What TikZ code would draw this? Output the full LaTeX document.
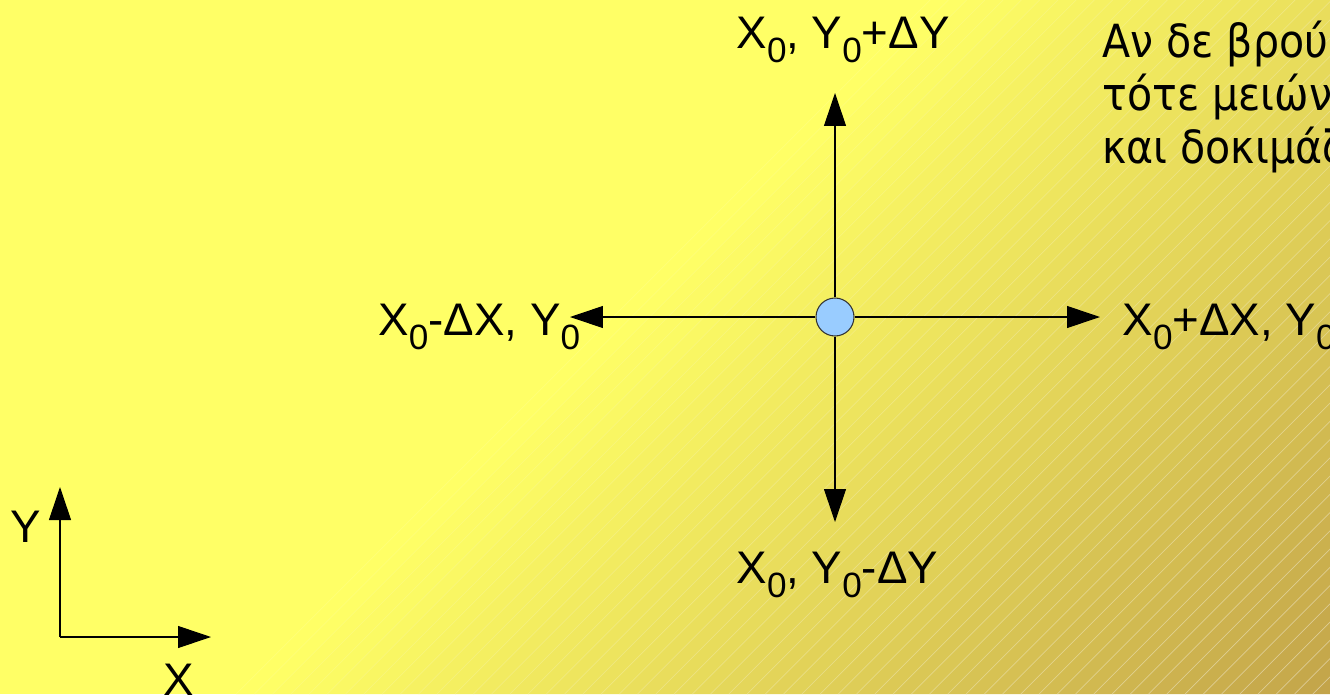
\documentclass[tikz,border=0pt]{standalone}
\usepackage{fontspec}
\setmainfont{Liberation Sans}
\newfontfamily\grfont{DejaVu Sans Condensed}
\usetikzlibrary{arrows.meta}
\definecolor{bgyellow}{RGB}{255,255,102}
\definecolor{bggold}{RGB}{195,164,74}
\definecolor{dotblue}{RGB}{153,204,255}
\newcommand{\nul}{\raisebox{-8.5pt}{\fontsize{20}{20}\selectfont 0}}
\tikzset{
  lbl/.style={font=\fontsize{26}{31}\selectfont, inner sep=0pt},
  note/.style={font=\grfont\fontsize{26}{31}\selectfont, inner sep=0pt},
  dot/.style={circle, draw=black!80, fill=dotblue, line width=0.6pt, minimum size=0.76cm, inner sep=0pt},
}
\begin{document}
\begin{tikzpicture}[x=0.02cm, y=-0.02cm, >={Triangle[length=0.66cm,width=0.44cm]}, line width=0.6pt]
  \useasboundingbox (0,0) rectangle (1330,694);
  \clip (0,0) rectangle (1330,694);
  \fill[bgyellow] (0,0) rectangle (1330,694);
  % diagonal gradient with faint hatching
  \foreach \i in {0,...,59} {
    \pgfmathsetmacro{\a}{930+18.25*\i}
    \pgfmathsetmacro{\b}{\a+19}
    \pgfmathtruncatemacro{\t}{100*\i/59}
    \pgfmathsetmacro{\op}{0.12+0.003*\t}
    \fill[bggold!\t!bgyellow] (\a,0) -- (\b,0) -- ({\b-694},694) -- ({\a-694},694) -- cycle;
    \draw[white, opacity=\op, line width=0.4pt] (\a,0) -- ({\a-694},694);
  }

  \node[dot] (c) at (835,317) {};
  \coordinate (up) at (835,93);
  \coordinate (dn) at (835,522);
  \coordinate (lt) at (570,317);
  \coordinate (rt) at (1100,317);
  \draw[->] (c) -- (up);
  \draw[->] (c) -- (dn);
  \draw[->] (c) -- (lt);
  \draw[->] (c) -- (rt);

  \node[lbl, anchor=base west] (lup) at (736,48) {X\nul, Y\nul+ΔY};
  \node[lbl, anchor=base west] (ldn) at (736,583) {X\nul, Y\nul-ΔY};
  \node[lbl, anchor=base west] (llt) at (378,335) {X\nul-ΔX, Y\nul};
  \node[lbl, anchor=base west] (lrt) at (1122,335) {X\nul+ΔX, Y\nul};

  \node[note, anchor=base west] (n1) at (1102,57) {Αν δε βρούμε};
  \node[note, anchor=base west] (n2) at (1102,110) {τότε μειώνουμε};
  \node[note, anchor=base west] (n3) at (1102,163) {και δοκιμάζουμε};

  % axes
  \coordinate (o) at (60,637);
  \coordinate (ay) at (60,487);
  \coordinate (ax) at (211,637);
  \draw[->] (o) -- (ay);
  \draw[->] (o) -- (ax);
  \node[lbl, anchor=base west] (ylbl) at (10,542) {Y};
  \node[lbl, anchor=base west] (xlbl) at (163,695) {X};
\end{tikzpicture}
\end{document}
